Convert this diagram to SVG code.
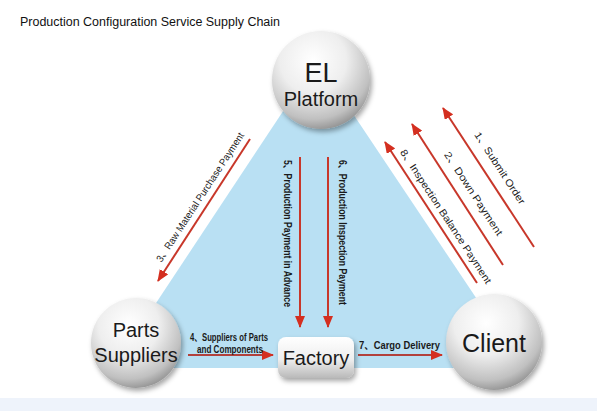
<svg xmlns="http://www.w3.org/2000/svg" width="597" height="411" viewBox="0 0 597 411">
<defs>
<style>
.t{font-family:"Liberation Sans","Noto Sans CJK SC",Arial,sans-serif;fill:#111}
.node{font-family:"Liberation Sans",Arial,sans-serif;fill:#1a1a1a;text-anchor:middle}
.lbl{font-family:"Liberation Sans","Noto Sans CJK SC",Arial,sans-serif;fill:#1a1a1a;font-size:10px}
.b{font-weight:bold}
.arr{stroke:#c8372a;stroke-width:2;fill:none;marker-end:url(#ah)}
.arr2{stroke:#b2413c;stroke-width:2;fill:none;marker-end:url(#ah)}
</style>
<marker id="ah" viewBox="0 0 12 10" refX="11" refY="5" markerWidth="12" markerHeight="10" markerUnits="userSpaceOnUse" orient="auto">
<path d="M0,0 L12,5 L0,10 z" fill="#d42f20"/>
</marker>
<radialGradient id="ball" cx="0.42" cy="0.3" r="0.75">
<stop offset="0" stop-color="#ffffff"/>
<stop offset="0.45" stop-color="#eeeeee"/>
<stop offset="0.8" stop-color="#c0c0c0"/>
<stop offset="1" stop-color="#888888"/>
</radialGradient>
<linearGradient id="box" x1="0" y1="0" x2="0" y2="1">
<stop offset="0" stop-color="#ffffff"/>
<stop offset="0.55" stop-color="#eeeeee"/>
<stop offset="1" stop-color="#b9b9b9"/>
</linearGradient>
<filter id="sh" x="-30%" y="-30%" width="160%" height="160%">
<feDropShadow dx="2" dy="3" stdDeviation="2.5" flood-color="#000" flood-opacity="0.35"/>
</filter>
</defs>
<rect width="597" height="411" fill="#ffffff"/>
<rect x="0" y="398" width="597" height="13" fill="#eef3fb"/>
<polygon points="317,60 113,368 523,368" fill="#b9e0f3"/>
<text class="t" x="20" y="26" font-size="12.5" textLength="260" lengthAdjust="spacingAndGlyphs">Production Configuration Service Supply Chain</text>

<g id="connectors">
<line class="arr" x1="250" y1="139" x2="158" y2="281"/>
<line class="arr" x1="534" y1="247" x2="443" y2="108"/>
<line class="arr" x1="503" y1="265" x2="412" y2="124"/>
<line class="arr" x1="477" y1="283" x2="385" y2="142"/>
<line class="arr" x1="300" y1="157" x2="300" y2="327"/>
<line class="arr" x1="328" y1="157" x2="328" y2="327"/>
<line class="arr2" x1="188" y1="355" x2="273" y2="355"/>
<line class="arr2" x1="358" y1="355" x2="442" y2="355"/>
<text class="lbl" text-anchor="middle" transform="translate(203,199) rotate(-56.9)" textLength="152" lengthAdjust="spacingAndGlyphs">3、Raw Material Purchase Payment</text>
<text class="lbl" font-size="11" text-anchor="middle" transform="translate(497,170) rotate(56.8)" textLength="84" lengthAdjust="spacingAndGlyphs">1、Submit Order</text>
<text class="lbl" font-size="11" text-anchor="middle" transform="translate(470.6,195.4) rotate(56.8)" textLength="98" lengthAdjust="spacingAndGlyphs">2、Down Payment</text>
<text class="lbl" font-size="11" text-anchor="middle" transform="translate(443,218.4) rotate(56.8)" textLength="158" lengthAdjust="spacingAndGlyphs">8、Inspection Balance Payment</text>
<text class="lbl b" transform="translate(284,160) rotate(90)" textLength="147" lengthAdjust="spacingAndGlyphs">5、Production Payment in Advance</text>
<text class="lbl b" transform="translate(339,160) rotate(90)" textLength="145" lengthAdjust="spacingAndGlyphs">6、Production Inspection Payment</text>
<text class="lbl b" font-size="9" x="190" y="341" textLength="78" lengthAdjust="spacingAndGlyphs">4、Suppliers of Parts</text>
<text class="lbl b" font-size="9" x="197" y="353" textLength="66" lengthAdjust="spacingAndGlyphs">and Components</text>
<text class="lbl b" x="359" y="349" textLength="81" lengthAdjust="spacingAndGlyphs">7、Cargo Delivery</text>
</g>

<g id="el-platform">
<circle cx="321" cy="80" r="49" fill="url(#ball)" filter="url(#sh)"/>
<text class="node" x="321" y="82" font-size="27">EL</text>
<text class="node" x="321" y="106" font-size="20">Platform</text>
</g>
<g id="parts-suppliers">
<circle cx="136" cy="343" r="45" fill="url(#ball)" filter="url(#sh)"/>
<text class="node" x="136" y="337" font-size="20">Parts</text>
<text class="node" x="136" y="362" font-size="20">Suppliers</text>
</g>
<g id="client">
<circle cx="494" cy="342" r="48" fill="url(#ball)" filter="url(#sh)"/>
<text class="node" x="494" y="352" font-size="25">Client</text>
</g>
<g id="factory">
<rect x="278" y="337" width="76" height="41" rx="8" fill="url(#box)" filter="url(#sh)"/>
<text class="node" x="316" y="365" font-size="20">Factory</text>
</g>
</svg>
